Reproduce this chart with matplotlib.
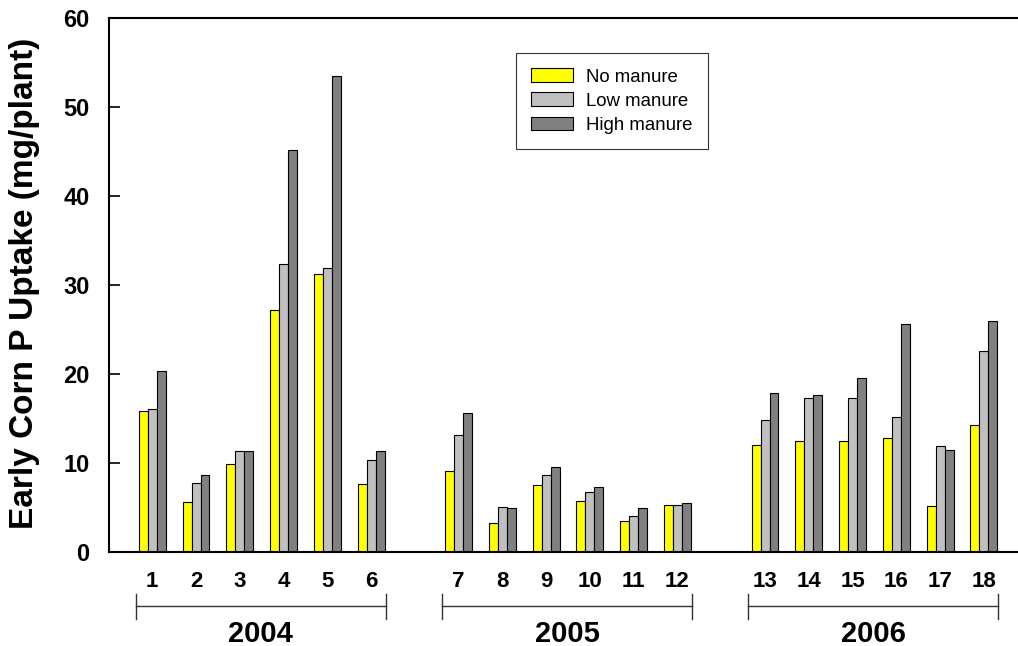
import numpy as np
import matplotlib
matplotlib.use("Agg")
import matplotlib.pyplot as plt
import matplotlib.transforms as transforms

plt.rcParams['font.family'] = ['Liberation Sans', 'DejaVu Sans']

# site numbers and years
sites = [str(i) for i in range(1, 19)]
years = ['2004', '2005', '2006']
# early corn P uptake, mg/plant
no_manure = [15.8, 5.6, 9.9, 27.2, 31.2, 7.6,
             9.1, 3.3, 7.5, 5.7, 3.5, 5.3,
             12.0, 12.5, 12.5, 12.8, 5.2, 14.3]
low_manure = [16.1, 7.8, 11.3, 32.4, 31.9, 10.3,
              13.1, 5.1, 8.6, 6.7, 4.1, 5.3,
              14.8, 17.3, 17.3, 15.2, 11.9, 22.6]
high_manure = [20.3, 8.7, 11.3, 45.2, 53.5, 11.4,
               15.6, 5.0, 9.5, 7.3, 5.0, 5.5,
               17.9, 17.7, 19.6, 25.6, 11.5, 26.0]

# x positions: one empty slot between years
pos = np.array([i + i // 6 for i in range(18)], dtype=float)
w = 0.205

fig = plt.figure(figsize=(10.18, 6.46), dpi=100)
ax = fig.add_axes([0.107, 0.1455, 0.893, 0.8265])

ax.bar(pos - w, no_manure, w, color='#FFFF00', edgecolor='black', linewidth=0.8, label='No manure')
ax.bar(pos, low_manure, w, color='#C0C0C0', edgecolor='black', linewidth=0.8, label='Low manure')
ax.bar(pos + w, high_manure, w, color='#808080', edgecolor='black', linewidth=0.8, label='High manure')

ax.set_xlim(-0.99, 19.78)
ax.set_ylim(0, 60)
ax.set_yticks(range(0, 61, 10))
ax.tick_params(axis='y', direction='in', length=8, width=1.2, labelsize=17, pad=14)
ax.set_xticks(pos)
ax.set_xticklabels(sites, fontsize=16, fontweight='bold')
ax.tick_params(axis='x', length=0, pad=14)
for lab in ax.get_yticklabels():
    lab.set_fontweight('bold')
ax.spines['right'].set_visible(False)
for s in ['left', 'top', 'bottom']:
    ax.spines[s].set_linewidth(1.5)

fig.text(25 / 1018, 0.561, 'Early Corn P Uptake (mg/plant)', rotation=90,
         ha='center', va='center', fontsize=24, fontweight='bold')

# year brackets under the site numbers
trans = transforms.blended_transform_factory(ax.transData, ax.transAxes)
for k, yr in enumerate(years):
    x0 = pos[k * 6] - 0.38
    x1 = pos[k * 6 + 5] + 0.33
    yb = -0.102
    ax.plot([x0, x1], [yb, yb], color='#333333', lw=1, transform=trans, clip_on=False)
    ax.plot([x0, x0], [yb - 0.023, yb + 0.023], color='#333333', lw=1, transform=trans, clip_on=False)
    ax.plot([x1, x1], [yb - 0.023, yb + 0.023], color='#333333', lw=1, transform=trans, clip_on=False)
    ax.text((x0 + x1) / 2, -0.153, yr, transform=trans, ha='center', va='center',
            fontsize=21, fontweight='bold')

leg = ax.legend(loc='upper left', bbox_to_anchor=(0.448, 0.934), fontsize=13.4,
                frameon=True, fancybox=False, handlelength=2.26, handleheight=0.75,
                labelspacing=0.37, borderpad=0.8, handletextpad=0.7, borderaxespad=0)
leg.get_frame().set_edgecolor('black')
leg.get_frame().set_linewidth(0.8)

fig.savefig('out.png', dpi=100)
